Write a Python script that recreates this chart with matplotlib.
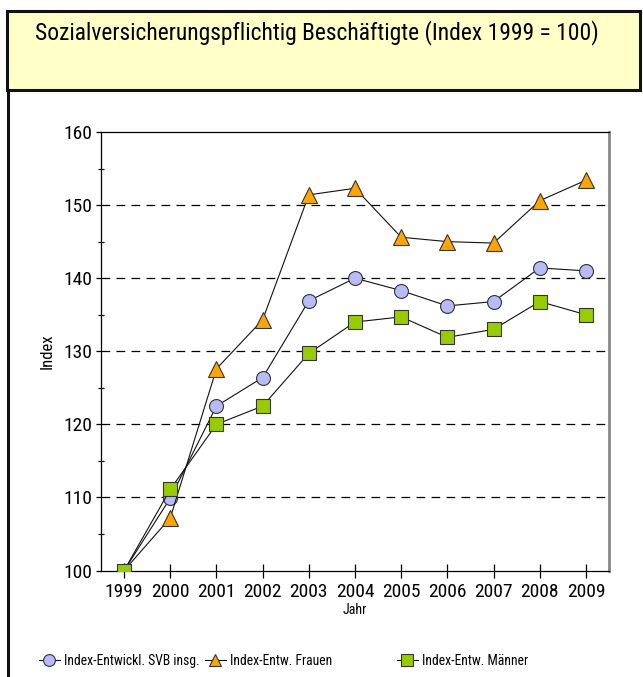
import matplotlib
matplotlib.use("Agg")
import matplotlib.pyplot as plt
from matplotlib.patches import Rectangle
from matplotlib.lines import Line2D
from matplotlib.ticker import MultipleLocator

years = ["1999", "2000", "2001", "2002", "2003", "2004", "2005", "2006", "2007", "2008", "2009"]
svb = [100, 109.9, 122.5, 126.4, 136.9, 140.0, 138.3, 136.2, 136.8, 141.4, 141.0]
frauen = [100, 107.2, 127.6, 134.3, 151.4, 152.3, 145.6, 145.0, 144.8, 150.6, 153.4]
maenner = [100, 111.1, 120.0, 122.5, 129.7, 134.0, 134.7, 131.9, 133.0, 136.8, 135.0]
labels = ["Index-Entwickl. SVB insg.", "Index-Entw. Frauen", "Index-Entw. Männer"]
title = "Sozialversicherungspflichtig Beschäftigte (Index 1999 = 100)"

plt.rcParams['font.family'] = ["Roboto Condensed", "DejaVu Sans"]

W, H = 643, 677
fig = plt.figure(figsize=(W / 100, H / 100), dpi=100)

def px(x, y):
    return x / W, 1 - y / H

# title box
x0, y0 = px(7, 90)
fig.patches.append(Rectangle((x0, y0), (640 - 7) / W, (90 - 11) / H, transform=fig.transFigure,
                             facecolor="#FFFFC8", edgecolor="#111111", linewidth=2.2, zorder=0))
fig.lines.append(Line2D([8 / W, 8 / W], [0, 1 - 90 / H], transform=fig.transFigure,
                        color="#111111", linewidth=2.2))
fig.text(35 / W, 1 - 33 / H, title, fontsize=16.9, va="center", ha="left")

# axes
left, right, top, bottom = 101, 609, 132, 570.5
ax = fig.add_axes([left / W, 1 - bottom / H, (right - left) / W, (bottom - top) / H])
x = list(range(len(years)))
lc = "#111111"
l1, = ax.plot(x, svb, color=lc, lw=0.8, marker="o", ms=10, mfc="#B8BBF5", mec="#333333", mew=0.8, zorder=4)
l2, = ax.plot(x, frauen, color=lc, lw=0.8, marker="^", ms=11, mfc="#FFA500", mec="#333333", mew=0.8, zorder=4)
l3, = ax.plot(x, maenner, color=lc, lw=0.8, marker="s", ms=10, mfc="#99CC00", mec="#333333", mew=0.8, zorder=4)

ax.set_xlim(-0.5, 10.5)
ax.set_ylim(100, 160)
ax.set_xticks(x)
ax.set_xticklabels(years)
ax.yaxis.set_major_locator(MultipleLocator(10))
ax.yaxis.set_minor_locator(MultipleLocator(5))
for v in range(110, 160, 10):
    ax.axhline(v, color="black", lw=0.9, ls=(0, (7, 5)), zorder=1)

ax.tick_params(axis="y", which="major", direction="out", length=3.4, width=0.9, labelsize=14, pad=3.2)
ax.tick_params(axis="y", which="minor", direction="inout", length=4, width=0.9)
ax.tick_params(axis="x", which="major", direction="inout", length=9.4, width=0.9, labelsize=14, pad=4)
for s in ["left", "bottom", "top"]:
    ax.spines[s].set_color("black")
    ax.spines[s].set_linewidth(0.9)
ax.spines["right"].set_color("#888888")
ax.spines["right"].set_linewidth(2)

ax.set_ylabel("Index", fontsize=12, labelpad=6)
ax.set_xlabel("Jahr", fontsize=10, labelpad=2)

for h, lab, xp in [(l1, labels[0], 39), (l2, labels[1], 205), (l3, labels[2], 397)]:
    fig.legend(handles=[h], labels=[lab], loc="center left",
               bbox_to_anchor=(xp / W, 1 - 661 / H), frameon=False, fontsize=9.85,
               handlelength=1.5, handletextpad=0.35, borderpad=0, borderaxespad=0,
               markerscale=0.85)

fig.savefig("out.png", dpi=100)
